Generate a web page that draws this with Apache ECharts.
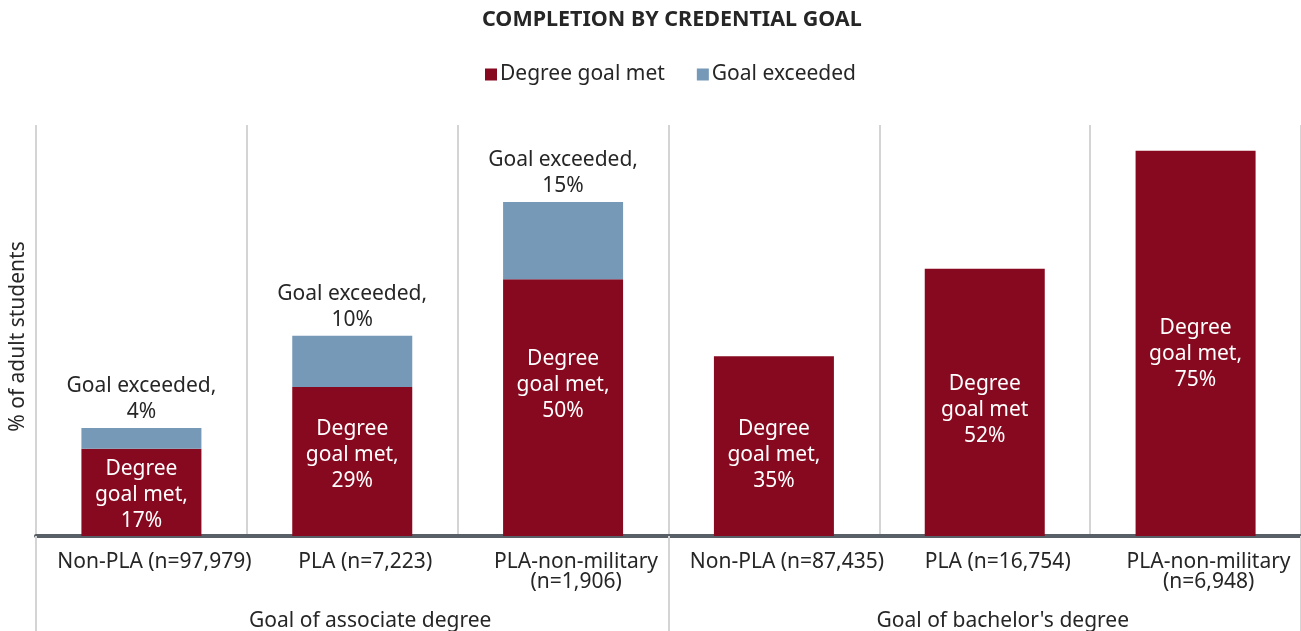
<!DOCTYPE html>
<html>
<head>
<meta charset="utf-8">
<script src="https://cdn.jsdelivr.net/npm/echarts@6/dist/echarts.min.js"></script>
<style>
  html, body { margin: 0; padding: 0; background: #fff; }
  #chart { width: 1301px; height: 631px; }
</style>
</head>
<body>
<div id="chart"></div>
<script>
const categories = ['Non-PLA (n=97,979)', 'PLA (n=7,223)', 'PLA-non-military\n(n=1,906)',
  'Non-PLA (n=87,435)', 'PLA (n=16,754)', 'PLA-non-military\n(n=6,948)']
const groups = ['Goal of associate degree', "Goal of bachelor's degree"]
const goalMet = [17, 29, 50, 35, 52, 75]
const goalExceeded = [4, 10, 15, null, null, null]
// labels inside the red bars, as in the original
const metLabels = ['Degree\ngoal met,\n17%', 'Degree\ngoal met,\n29%', 'Degree\ngoal met,\n50%',
  'Degree\ngoal met,\n35%', 'Degree\ngoal met\n52%', 'Degree\ngoal met,\n75%']
// small vertical nudges of the inside labels (px), the original ones aren't exactly centred
const metLabelShift = [3, -6, -23, 9, 8, 11]

const font = 'Noto Sans'
const chart = echarts.init(document.getElementById('chart'))

chart.setOption({
  textStyle: { fontFamily: font },
  title: {
    text: 'COMPLETION BY CREDENTIAL GOAL',
    left: 477,
    top: 4,
    textStyle: { fontSize: 21.5, fontWeight: 'bold', color: '#262626', fontFamily: font }
  },
  legend: {
    top: 59,
    left: 480,
    itemWidth: 12,
    itemHeight: 12,
    itemGap: 32,
    icon: 'rect',
    textStyle: { fontSize: 21, color: '#262626', padding: [0, 0, 0, -2] },
    data: ['Degree goal met', 'Goal exceeded']
  },
  grid: { left: 36, right: 0, top: 125, bottom: 95, outerBoundsMode: 'none' },
  xAxis: [
    {
      type: 'category',
      data: categories,
      axisLine: { lineStyle: { color: '#595f66', width: 4 } },
      axisTick: { show: false },
      axisLabel: {
        interval: 0, margin: 16, fontSize: 21, color: '#262626', lineHeight: 20,
        padding: [0, 0, 0, 26]
      },
      splitLine: { show: true, lineStyle: { color: '#d4d4d4', width: 2 } }
    },
    {
      type: 'category',
      data: groups,
      position: 'bottom',
      axisLine: { show: false },
      axisTick: { show: true, length: 95, lineStyle: { color: '#d4d4d4', width: 2 } },
      axisLabel: { margin: 75, fontSize: 21, color: '#262626', padding: [0, 0, 0, 36] },
      splitLine: { show: false }
    }
  ],
  yAxis: {
    type: 'value',
    min: 0,
    max: 80,
    name: '% of adult students',
    nameLocation: 'middle',
    nameRotate: 90,
    nameGap: 7,
    nameTextStyle: { fontSize: 21, color: '#262626', padding: [0, 12, 0, 0] },
    axisLine: { show: false },
    axisTick: { show: false },
    axisLabel: { show: false },
    splitLine: { show: false }
  },
  series: [
    {
      name: 'Degree goal met',
      type: 'bar',
      stack: 'goal',
      barWidth: 120,
      itemStyle: { color: '#87091f' },
      label: {
        show: true,
        position: 'inside',
        color: '#fff',
        fontSize: 21,
        lineHeight: 26,
        formatter: p => metLabels[p.dataIndex]
      },
      data: goalMet.map((v, i) => ({ value: v, label: { offset: [0, metLabelShift[i]] } }))
    },
    {
      name: 'Goal exceeded',
      type: 'bar',
      stack: 'goal',
      barWidth: 120,
      itemStyle: { color: '#7599b7' },
      label: {
        show: true,
        position: 'top',
        distance: 3,
        color: '#262626',
        fontSize: 21,
        lineHeight: 26,
        formatter: p => p.value == null ? '' : 'Goal exceeded,\n' + p.value + '%'
      },
      data: goalExceeded
    }
  ]
})
</script>
</body>
</html>
